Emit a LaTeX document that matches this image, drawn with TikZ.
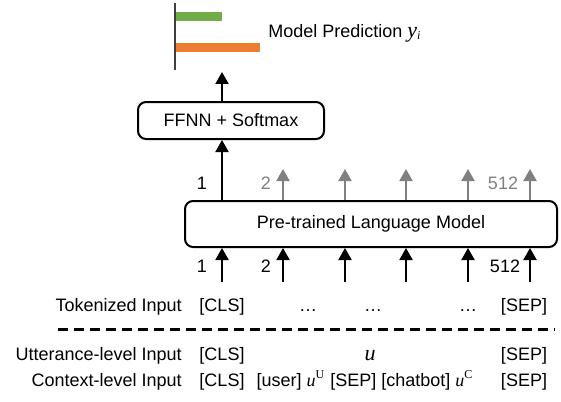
\documentclass[tikz,border=0pt]{standalone}
\usepackage{fontspec}
\setmainfont{Liberation Sans}
\newfontfamily\timesfont{Liberation Serif}
\usetikzlibrary{arrows.meta,positioning}
\definecolor{bargreen}{RGB}{112,173,71}
\definecolor{barorange}{RGB}{237,125,49}
\definecolor{tokengray}{RGB}{128,128,128}
\tikzset{
  block/.style={draw, line width=1pt, rounded corners=4pt, inner sep=0pt},
  uparrow/.style={line width=1pt, -{Triangle[width=6.5pt,length=6pt]}},
  grayarrow/.style={uparrow, color=tokengray},
  lbl/.style={anchor=base, inner sep=0pt},
  rowname/.style={anchor=base east, inner sep=0pt},
  sepline/.style={line width=1.5pt, dash pattern=on 5pt off 3pt}
}
\begin{document}
\begin{tikzpicture}[x=0.5pt, y=-0.5pt, font=\fontsize{9}{11}\selectfont]
  \useasboundingbox (0,0) rectangle (561,401);
  % Prediction bars
  \draw[line width=0.75pt, black!75] (175,3) -- (175,70);
  \fill[bargreen] (175.6,12) rectangle (222,21);
  \fill[barorange] (175.6,43) rectangle (260,52);
  \node[anchor=base west, inner sep=0pt] (pred) at (268,38)
    {Model Prediction {\timesfont\itshape\fontsize{11}{13}\selectfont y}\textsubscript{\timesfont\itshape i}};
  %
  % Blocks
  \node[block, minimum width=93pt, minimum height=18.5pt] (ffnn) at (231,120.5) {FFNN + Softmax};
  \node[block, minimum width=186pt, minimum height=23pt] (plm) at (371,224) {Pre-trained Language Model};
  %
  % Token columns
  \foreach \i/\x in {1/222, 2/283, 3/345, 4/406, 5/468, 6/530}
    \coordinate (col\i) at (\x,282);
  \coordinate (toprow) at (0,169);
  \coordinate (predrow) at (0,72);
  \foreach \i in {1,...,6}
    \draw[uparrow] (col\i) -- (col\i |- plm.south);
  \foreach \i in {2,...,6}
    \draw[grayarrow] (col\i |- plm.north) -- (col\i |- toprow);
  \draw[uparrow] (col1 |- plm.north) -- (col1 |- ffnn.south);
  \draw[uparrow] (col1 |- ffnn.north) -- (col1 |- predrow);
  %
  % Position labels
  \node[lbl] (p1) at (202,189) {1};
  \node[lbl, tokengray] (p2) at (266,189) {2};
  \node[lbl, tokengray] (p512) at (503,189) {512};
  \node[lbl] (q1) at (202,272) {1};
  \node[lbl] (q2) at (266,272) {2};
  \node[lbl] (q512) at (505,272) {512};
  %
  % Input rows
  \node[rowname] (tok) at (182,311) {Tokenized Input};
  \node[lbl] (tokcls) at (222,311) {[CLS]};
  \foreach \x/\i in {308/1, 373/2, 468/3}
    \node[lbl] (dots\i) at (\x,311) {…};
  \node[lbl] (toksep) at (524,311) {[SEP]};
  \draw[sepline] (58,329) -- (555,329);
  \node[rowname] (utt) at (182,360) {Utterance-level Input};
  \node[lbl] (uttcls) at (222,360) {[CLS]};
  \node[lbl, font=\timesfont\itshape\fontsize{11}{13}\selectfont] (uttu) at (370,360) {u};
  \node[lbl] (uttsep) at (524,360) {[SEP]};
  \node[rowname] (ctx) at (182,386) {Context-level Input};
  \node[lbl] (ctxcls) at (222,386) {[CLS]};
  \node[lbl] (ctxmid) at (365,386)
    {[user] {\timesfont\itshape u}\textsuperscript{\timesfont U} [SEP] [chatbot] {\timesfont\itshape u}\textsuperscript{\timesfont C}};
  \node[lbl] (ctxsep) at (524,386) {[SEP]};
\end{tikzpicture}
\end{document}
